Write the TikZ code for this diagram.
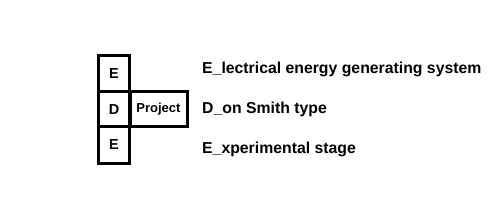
\documentclass[tikz,border=0pt]{standalone}
\usepackage{fontspec}
\setmainfont{Liberation Sans}
\begin{document}
\begin{tikzpicture}[x=1pt,y=1pt,
  cell/.style={draw=black,line width=3pt,inner sep=0pt,minimum width=31pt,font=\fontsize{14.5}{17}\selectfont\bfseries},
  label/.style={anchor=base west,inner sep=0pt,font=\fontsize{15.8}{19}\selectfont\bfseries}]
\useasboundingbox (0,0) rectangle (496,220);
\node[cell,minimum height=36pt] (e1) at (114,146) {E};
\node[cell,minimum height=35pt] (d) at (114,110.5) {D};
\node[cell,minimum height=36pt] (e2) at (114,75) {E};
\node[cell,minimum width=57pt,minimum height=35pt,font=\fontsize{13}{15}\selectfont\bfseries] (proj) at (158.5,110.5) {Project};
\node[label] (t1) at (202,146.5) {E\_lectrical energy generating system};
\node[label] (t2) at (202,106.5) {D\_on Smith type};
\node[label] (t3) at (202,66.5) {E\_xperimental stage};
\end{tikzpicture}
\end{document}
